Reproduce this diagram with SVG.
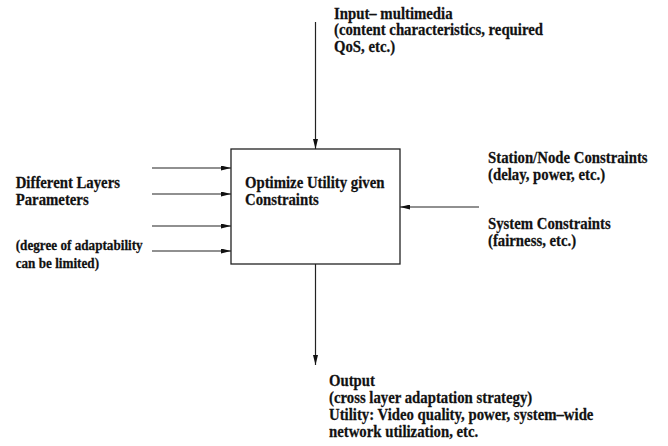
<svg xmlns="http://www.w3.org/2000/svg" width="668" height="446" viewBox="0 0 668 446">
  <style>
    text { font-family: "Liberation Serif", "Times New Roman", serif; font-weight: bold; font-size: 16.6px; fill: #111; stroke: #111; stroke-width: 0.25; }
    text.note { font-size: 14.8px; }
    .wire { stroke: #222; stroke-width: 1.2; fill: none; }
    .box { stroke: #222; stroke-width: 1.3; fill: #fff; }
  </style>
  <defs>
    <marker id="head" markerUnits="userSpaceOnUse" markerWidth="10" markerHeight="5" refX="10" refY="2.5" orient="auto">
      <path d="M0,0 L10,2.5 L0,5 z" fill="#111"/>
    </marker>
  </defs>
  <rect width="668" height="446" fill="#fff"/>

  <!-- connectors -->
  <g id="connectors">
    <line class="wire" x1="315.5" y1="22" x2="315.5" y2="149" marker-end="url(#head)"/>
    <line class="wire" x1="152" y1="168" x2="231" y2="168" marker-end="url(#head)"/>
    <line class="wire" x1="152" y1="194" x2="231" y2="194" marker-end="url(#head)"/>
    <line class="wire" x1="152" y1="226" x2="231" y2="226" marker-end="url(#head)"/>
    <line class="wire" x1="152" y1="251" x2="231" y2="251" marker-end="url(#head)"/>
    <line class="wire" x1="479" y1="207" x2="400" y2="207" marker-end="url(#head)"/>
    <line class="wire" x1="315.5" y1="264" x2="315.5" y2="365" marker-end="url(#head)"/>
  </g>

  <!-- central optimizer block -->
  <g id="optimizer">
    <rect class="box" x="231" y="149" width="169" height="115"/>
    <g transform="translate(245,188) scale(0.89,1)">
      <text x="0" y="0">Optimize Utility given</text>
      <text x="0" y="17">Constraints</text>
    </g>
  </g>

  <!-- input label -->
  <g id="input" transform="translate(334,19) scale(0.89,1)">
    <text x="0" y="0">Input– multimedia</text>
    <text x="0" y="16.5">(content characteristics, required</text>
    <text x="0" y="33">QoS, etc.)</text>
  </g>

  <!-- layer parameters label -->
  <g id="layers" transform="translate(15.7,187.5) scale(0.89,1)">
    <text x="0" y="0">Different Layers</text>
    <text x="0" y="17.5">Parameters</text>
    <text class="note" x="0" y="63">(degree of adaptability</text>
    <text class="note" x="0" y="80.5">can be limited)</text>
  </g>

  <!-- constraints label -->
  <g id="constraints" transform="translate(488,163) scale(0.89,1)">
    <text x="0" y="0">Station/Node Constraints</text>
    <text x="0" y="17.5">(delay, power, etc.)</text>
    <text x="0" y="66">System Constraints</text>
    <text x="0" y="83.5">(fairness, etc.)</text>
  </g>

  <!-- output label -->
  <g id="output" transform="translate(329,385.5) scale(0.89,1)">
    <text x="0" y="0">Output</text>
    <text x="0" y="17.5">(cross layer adaptation strategy)</text>
    <text x="0" y="34.5">Utility: Video quality, power, system–wide</text>
    <text x="0" y="52">network utilization, etc.</text>
  </g>
</svg>
